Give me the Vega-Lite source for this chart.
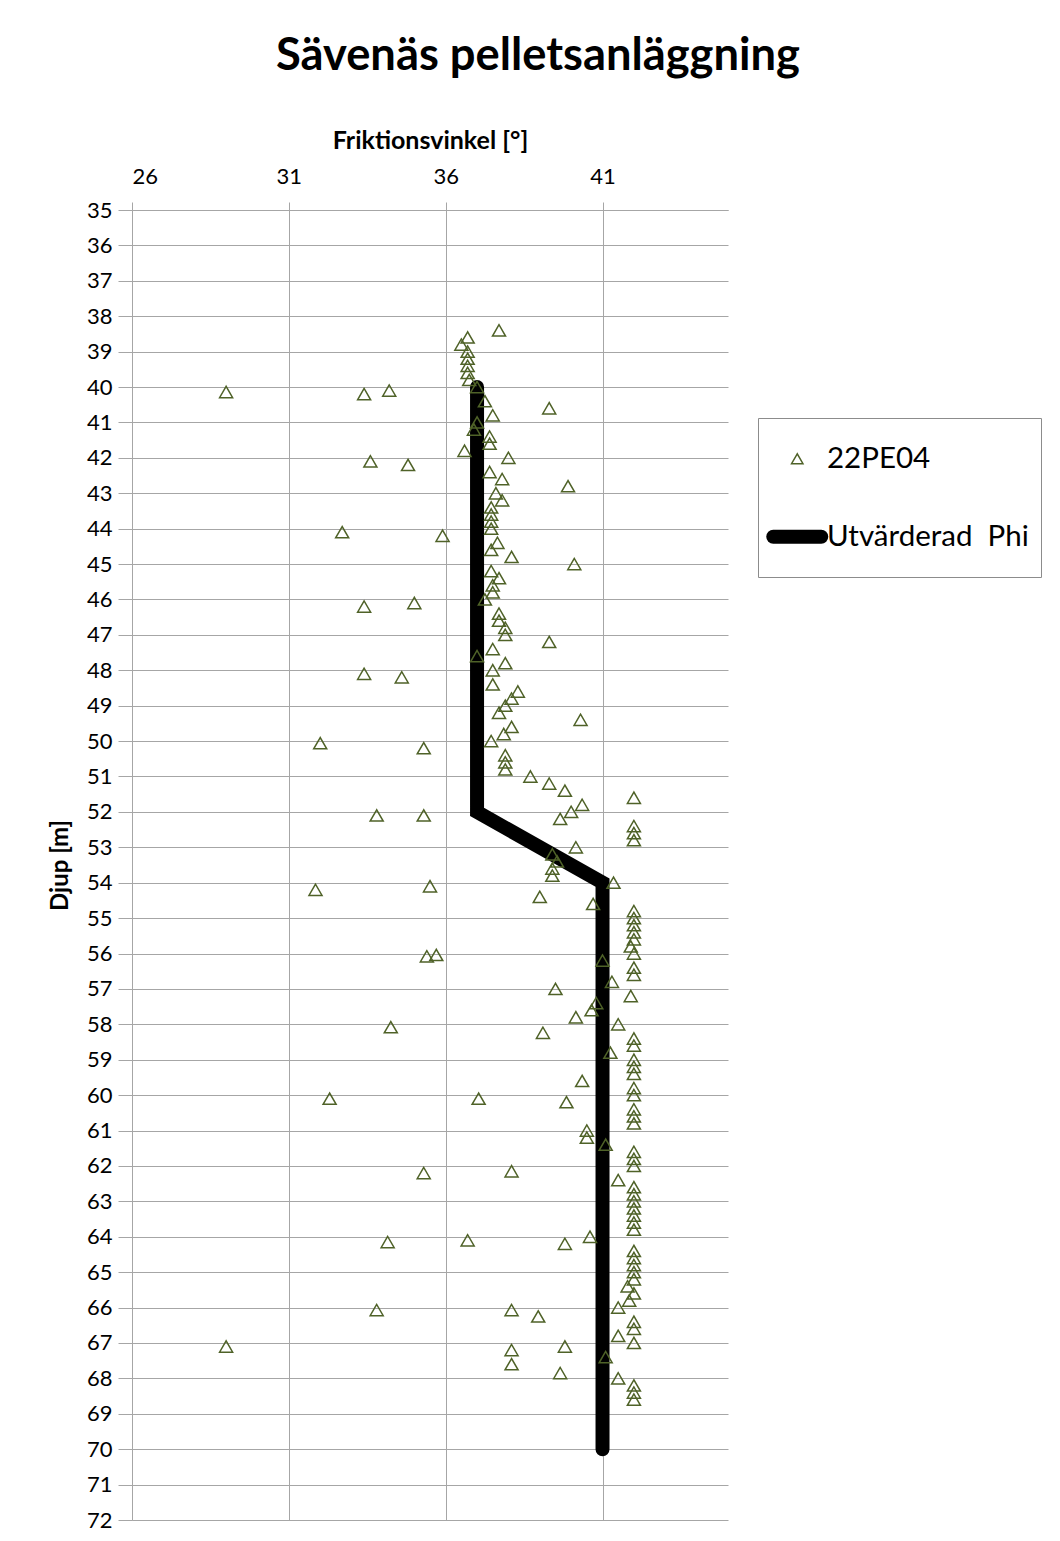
{
  "$schema": "https://vega.github.io/schema/vega-lite/v6.json",
  "width": 596,
  "height": 1310,
  "autosize": "none",
  "padding": {"left": 132, "top": 210, "right": 332, "bottom": 21},
  "background": "white",
  "title": {
    "text": "Sävenäs pelletsanläggning",
    "font": "Lato",
    "fontSize": 45.3,
    "fontWeight": "bold",
    "color": "black",
    "anchor": "middle",
    "frame": "group",
    "dx": 108,
    "offset": 49
  },
  "config": {
    "view": {"stroke": null},
    "axis": {
      "gridColor": "#A6A6A6",
      "domainColor": "#A6A6A6",
      "tickColor": "#A6A6A6",
      "labelFont": "Lato",
      "labelColor": "black",
      "titleFont": "Lato",
      "titleColor": "black",
      "titleFontWeight": "bold",
      "labelOverlap": false
    }
  },
  "datasets": {
    "pts": [
      {"Djup": 38.4, "Phi": 37.7}, {"Djup": 38.6, "Phi": 36.7}, {"Djup": 38.8, "Phi": 36.5},
      {"Djup": 39.0, "Phi": 36.7}, {"Djup": 39.2, "Phi": 36.7}, {"Djup": 39.4, "Phi": 36.7},
      {"Djup": 39.6, "Phi": 36.7}, {"Djup": 39.8, "Phi": 36.75}, {"Djup": 40.0, "Phi": 37.0},
      {"Djup": 40.14, "Phi": 29.0}, {"Djup": 40.2, "Phi": 33.4}, {"Djup": 40.1, "Phi": 34.2},
      {"Djup": 40.4, "Phi": 37.25}, {"Djup": 40.6, "Phi": 39.3}, {"Djup": 40.8, "Phi": 37.5},
      {"Djup": 41.0, "Phi": 37.0}, {"Djup": 41.2, "Phi": 36.9}, {"Djup": 41.4, "Phi": 37.4},
      {"Djup": 41.6, "Phi": 37.4}, {"Djup": 41.8, "Phi": 36.6}, {"Djup": 42.0, "Phi": 38.0},
      {"Djup": 42.1, "Phi": 33.6}, {"Djup": 42.2, "Phi": 34.8}, {"Djup": 42.4, "Phi": 37.4},
      {"Djup": 42.6, "Phi": 37.8}, {"Djup": 42.8, "Phi": 39.9}, {"Djup": 43.0, "Phi": 37.6},
      {"Djup": 43.2, "Phi": 37.8}, {"Djup": 43.4, "Phi": 37.45}, {"Djup": 43.6, "Phi": 37.45},
      {"Djup": 43.8, "Phi": 37.45}, {"Djup": 44.0, "Phi": 37.45}, {"Djup": 44.1, "Phi": 32.7},
      {"Djup": 44.2, "Phi": 35.9}, {"Djup": 44.4, "Phi": 37.65}, {"Djup": 44.6, "Phi": 37.45},
      {"Djup": 44.8, "Phi": 38.1}, {"Djup": 45.0, "Phi": 40.1}, {"Djup": 45.2, "Phi": 37.45},
      {"Djup": 45.4, "Phi": 37.7}, {"Djup": 45.6, "Phi": 37.5}, {"Djup": 45.8, "Phi": 37.5},
      {"Djup": 46.0, "Phi": 37.25}, {"Djup": 46.1, "Phi": 35.0}, {"Djup": 46.2, "Phi": 33.4},
      {"Djup": 46.4, "Phi": 37.7}, {"Djup": 46.6, "Phi": 37.7}, {"Djup": 46.8, "Phi": 37.9},
      {"Djup": 47.0, "Phi": 37.9}, {"Djup": 47.2, "Phi": 39.3}, {"Djup": 47.4, "Phi": 37.5},
      {"Djup": 47.6, "Phi": 37.0}, {"Djup": 47.8, "Phi": 37.9}, {"Djup": 48.0, "Phi": 37.5},
      {"Djup": 48.1, "Phi": 33.4}, {"Djup": 48.2, "Phi": 34.6}, {"Djup": 48.4, "Phi": 37.5},
      {"Djup": 48.6, "Phi": 38.3}, {"Djup": 48.8, "Phi": 38.1}, {"Djup": 49.0, "Phi": 37.9},
      {"Djup": 49.2, "Phi": 37.7}, {"Djup": 49.4, "Phi": 40.3}, {"Djup": 49.6, "Phi": 38.1},
      {"Djup": 49.8, "Phi": 37.85}, {"Djup": 50.0, "Phi": 37.45}, {"Djup": 50.06, "Phi": 32.0},
      {"Djup": 50.2, "Phi": 35.3}, {"Djup": 50.4, "Phi": 37.9}, {"Djup": 50.6, "Phi": 37.9},
      {"Djup": 50.8, "Phi": 37.9}, {"Djup": 51.0, "Phi": 38.7}, {"Djup": 51.2, "Phi": 39.3},
      {"Djup": 51.4, "Phi": 39.8}, {"Djup": 51.6, "Phi": 42.0}, {"Djup": 51.8, "Phi": 40.35},
      {"Djup": 52.0, "Phi": 40.0}, {"Djup": 52.1, "Phi": 33.8}, {"Djup": 52.1, "Phi": 35.3},
      {"Djup": 52.2, "Phi": 39.65}, {"Djup": 52.4, "Phi": 42.0}, {"Djup": 52.6, "Phi": 42.0},
      {"Djup": 52.8, "Phi": 42.0}, {"Djup": 53.0, "Phi": 40.15}, {"Djup": 53.2, "Phi": 39.4},
      {"Djup": 53.4, "Phi": 39.55}, {"Djup": 53.6, "Phi": 39.4}, {"Djup": 53.8, "Phi": 39.4},
      {"Djup": 54.0, "Phi": 41.35}, {"Djup": 54.1, "Phi": 35.5}, {"Djup": 54.2, "Phi": 31.85},
      {"Djup": 54.4, "Phi": 39.0}, {"Djup": 54.6, "Phi": 40.7}, {"Djup": 54.8, "Phi": 42.0},
      {"Djup": 55.0, "Phi": 42.0}, {"Djup": 55.2, "Phi": 42.0}, {"Djup": 55.4, "Phi": 42.0},
      {"Djup": 55.6, "Phi": 42.0}, {"Djup": 55.8, "Phi": 41.9}, {"Djup": 56.0, "Phi": 42.0},
      {"Djup": 56.08, "Phi": 35.4}, {"Djup": 56.04, "Phi": 35.7}, {"Djup": 56.2, "Phi": 41.0},
      {"Djup": 56.4, "Phi": 42.0}, {"Djup": 56.6, "Phi": 42.0}, {"Djup": 56.8, "Phi": 41.3},
      {"Djup": 57.0, "Phi": 39.5}, {"Djup": 57.2, "Phi": 41.9}, {"Djup": 57.4, "Phi": 40.8},
      {"Djup": 57.6, "Phi": 40.65}, {"Djup": 57.8, "Phi": 40.15}, {"Djup": 58.0, "Phi": 41.5},
      {"Djup": 58.08, "Phi": 34.25}, {"Djup": 58.24, "Phi": 39.1}, {"Djup": 58.4, "Phi": 42.0},
      {"Djup": 58.6, "Phi": 42.0}, {"Djup": 58.8, "Phi": 41.25}, {"Djup": 59.0, "Phi": 42.0},
      {"Djup": 59.2, "Phi": 42.0}, {"Djup": 59.4, "Phi": 42.0}, {"Djup": 59.6, "Phi": 40.35},
      {"Djup": 59.8, "Phi": 42.0}, {"Djup": 60.0, "Phi": 42.0}, {"Djup": 60.1, "Phi": 32.3},
      {"Djup": 60.1, "Phi": 37.05}, {"Djup": 60.2, "Phi": 39.85}, {"Djup": 60.4, "Phi": 42.0},
      {"Djup": 60.6, "Phi": 42.0}, {"Djup": 60.8, "Phi": 42.0}, {"Djup": 61.0, "Phi": 40.5},
      {"Djup": 61.2, "Phi": 40.5}, {"Djup": 61.4, "Phi": 41.1}, {"Djup": 61.6, "Phi": 42.0},
      {"Djup": 61.8, "Phi": 42.0}, {"Djup": 62.0, "Phi": 42.0}, {"Djup": 62.15, "Phi": 38.1},
      {"Djup": 62.2, "Phi": 35.3}, {"Djup": 62.4, "Phi": 41.5}, {"Djup": 62.6, "Phi": 42.0},
      {"Djup": 62.8, "Phi": 42.0}, {"Djup": 63.0, "Phi": 42.0}, {"Djup": 63.2, "Phi": 42.0},
      {"Djup": 63.4, "Phi": 42.0}, {"Djup": 63.6, "Phi": 42.0}, {"Djup": 63.8, "Phi": 42.0},
      {"Djup": 64.0, "Phi": 40.6}, {"Djup": 64.15, "Phi": 34.15}, {"Djup": 64.1, "Phi": 36.7},
      {"Djup": 64.2, "Phi": 39.8}, {"Djup": 64.4, "Phi": 42.0}, {"Djup": 64.6, "Phi": 42.0},
      {"Djup": 64.8, "Phi": 42.0}, {"Djup": 65.0, "Phi": 42.0}, {"Djup": 65.2, "Phi": 42.0},
      {"Djup": 65.4, "Phi": 41.8}, {"Djup": 65.6, "Phi": 42.0}, {"Djup": 65.8, "Phi": 41.85},
      {"Djup": 66.0, "Phi": 41.5}, {"Djup": 66.07, "Phi": 33.8}, {"Djup": 66.07, "Phi": 38.1},
      {"Djup": 66.25, "Phi": 38.95}, {"Djup": 66.4, "Phi": 42.0}, {"Djup": 66.6, "Phi": 42.0},
      {"Djup": 66.8, "Phi": 41.5}, {"Djup": 67.0, "Phi": 42.0}, {"Djup": 67.1, "Phi": 29.0},
      {"Djup": 67.1, "Phi": 39.8}, {"Djup": 67.2, "Phi": 38.1}, {"Djup": 67.4, "Phi": 41.1},
      {"Djup": 67.6, "Phi": 38.1}, {"Djup": 67.85, "Phi": 39.65}, {"Djup": 68.0, "Phi": 41.5},
      {"Djup": 68.2, "Phi": 42.0}, {"Djup": 68.4, "Phi": 42.0}, {"Djup": 68.6, "Phi": 42.0}
    ],
    "line": [
      {"Djup": 40, "Phi": 37},
      {"Djup": 52, "Phi": 37},
      {"Djup": 54, "Phi": 41},
      {"Djup": 70, "Phi": 41}
    ]
  },
  "encoding": {
    "x": {
      "field": "Phi", "type": "quantitative",
      "scale": {"domain": [26, 45], "nice": false, "zero": false},
      "axis": {
        "orient": "top", "values": [26, 31, 36, 41], "grid": true, "labelOverlap": false,
        "title": "Friktionsvinkel [°]", "titleFontSize": 25, "titlePadding": 12,
        "labelFontSize": 22, "tickSize": 8, "labelPadding": 14
      }
    },
    "y": {
      "field": "Djup", "type": "quantitative",
      "scale": {"domain": [35, 72], "reverse": true, "nice": false, "zero": false},
      "axis": {
        "values": [35,36,37,38,39,40,41,42,43,44,45,46,47,48,49,50,51,52,53,54,55,56,57,58,59,60,61,62,63,64,65,66,67,68,69,70,71,72],
        "grid": true, "labelOverlap": false, "labelBound": false, "labelFlush": false,
        "title": "Djup [m]", "titleFontSize": 24, "titlePadding": 14,
        "labelFontSize": 22, "tickSize": 14, "labelPadding": 6
      }
    },
    "color": {
      "field": "serie", "type": "nominal",
      "scale": {"domain": ["22PE04", "Utvärderad\u00a0 Phi"], "range": ["#4F6228", "black"]},
      "legend": {
        "orient": "none", "legendX": 626, "legendY": 208,
        "title": " ", "titleFontSize": 8, "titlePadding": 6,
        "symbolSize": 2500,
        "symbolStrokeWidth": 14,
        "labelFont": "Lato", "labelFontSize": 29.5, "labelColor": "black", "labelLimit": 500,
        "padding": 12, "rowPadding": 34, "labelOffset": 15, "symbolOffset": 12.5,
        "strokeColor": "#8C8C8C",
        "encode": {
          "symbols": {
            "update": {
              "shape": {"signal": "datum.value === '22PE04' ? 'triangle-up' : 'stroke'"},
              "size": {"signal": "datum.value === '22PE04' ? 130 : 2304"},
              "strokeWidth": {"signal": "datum.value === '22PE04' ? 1.5 : 14"},
              "fill": {"value": "transparent"},
              "strokeCap": {"value": "round"}
            }
          }
        }
      }
    }
  },
  "layer": [
    {
      "data": {"name": "line"},
      "transform": [{"calculate": "'Utvärderad\u00a0 Phi'", "as": "serie"}],
      "mark": {"type": "line", "strokeWidth": 14, "strokeCap": "round", "strokeJoin": "miter"},
      "encoding": {
        "order": {"field": "Djup", "type": "quantitative"}
      }
    },
    {
      "data": {"name": "pts"},
      "transform": [{"calculate": "'22PE04'", "as": "serie"}],
      "mark": {"type": "point", "shape": "triangle-up", "filled": false, "size": 170, "strokeWidth": 1.5, "opacity": 1}
    }
  ]
}
